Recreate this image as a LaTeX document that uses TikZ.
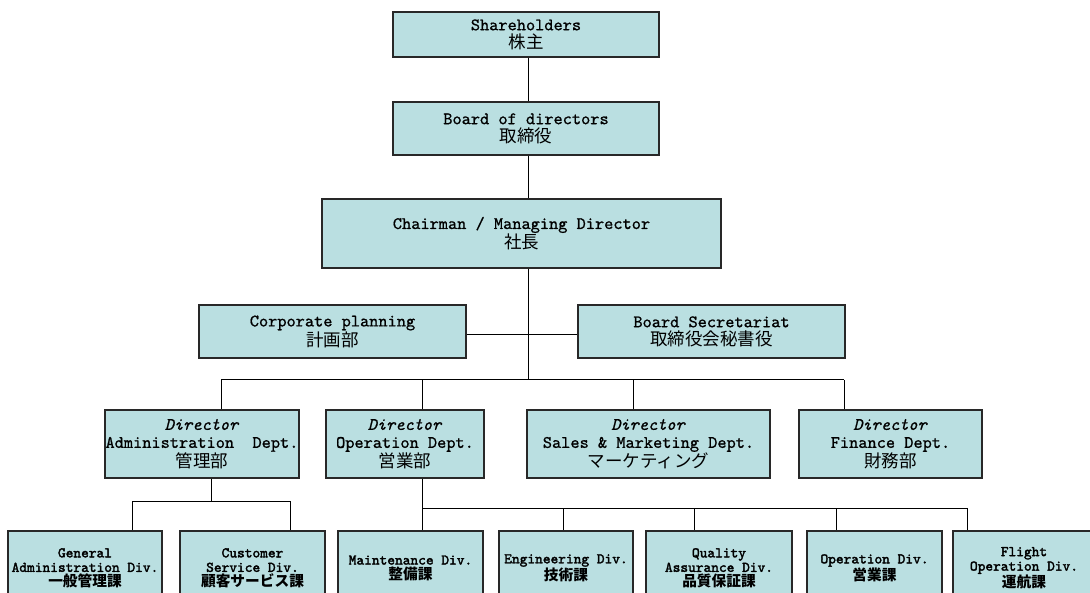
\documentclass[tikz,border=0pt]{standalone}
\usepackage{fontspec}
\newfontfamily\cjk[Scale=1.0]{Noto Sans CJK JP}
\newfontfamily\monotop[FakeBold=0.9, ItalicFont=lmmono10-italic.otf]{lmmono10-regular.otf}
\newfontfamily\monobot[FakeBold=2.2]{lmmono10-regular.otf}
\definecolor{boxc}{RGB}{186,223,225}
\definecolor{linec}{RGB}{40,40,40}
\newcommand{\topfont}{\monotop\fontsize{17.5}{18}\selectfont}
\newcommand{\botfont}{\monobot\fontsize{14.7}{14.5}\selectfont}
\begin{document}
\begin{tikzpicture}[x=1pt,y=-1pt,
  box/.style={draw=linec, fill=boxc, line width=1.1pt, inner sep=0pt, align=center, font=\topfont},
  subbox/.style={box, font=\botfont, minimum height=74pt},
  dirbox/.style={box, minimum height=68pt},
  conn/.style={draw=black, line width=1pt}]
\clip (0,0) rectangle (1090,593);
\fill[white] (0,0) rectangle (1090,593);

% top chain
\node[box, minimum width=266pt, minimum height=45pt] (sh) at (526,34.5) {Shareholders\\{\cjk 株主}};
\node[box, minimum width=266pt, minimum height=53pt] (bd) at (526,128.5) {Board of directors\\{\cjk 取締役}};
\node[box, minimum width=399pt, minimum height=69pt] (ch) at (521.5,233.5) {Chairman / Managing Director\\{\cjk 社長}};

\node[box, minimum width=267pt, minimum height=53pt] (cp) at (332.5,331.5) {Corporate planning\\{\cjk 計画部}};
\node[box, minimum width=267pt, minimum height=53pt] (bs) at (711.5,331.5) {Board Secretariat\\{\cjk 取締役会秘書役}};

% directors
\node[dirbox, minimum width=194pt] (d1) at (202,444) {\textit{Director}\\Administration\ \ Dept.\\{\cjk 管理部}};
\node[dirbox, minimum width=158pt] (d2) at (405,444) {\textit{Director}\\Operation Dept.\\{\cjk 営業部}};
\node[dirbox, minimum width=243pt] (d3) at (648.5,444) {\textit{Director}\\Sales \& Marketing Dept.\\{\cjk マーケティング}};
\node[dirbox, minimum width=183pt] (d4) at (890.5,444) {\textit{Director}\\Finance Dept.\\{\cjk 財務部}};

% divisions
\node[subbox, minimum width=154pt] (b1) at (85,568) {General\\Administration Div.\\{\cjk\bfseries 一般管理課}};
\node[subbox, minimum width=145pt] (b2) at (252.5,568) {Customer\\Service Div.\\{\cjk\bfseries 顧客サービス課}};
\node[subbox, minimum width=145pt] (b3) at (410.5,568) {Maintenance Div.\\{\cjk\bfseries 整備課}};
\node[subbox, minimum width=134pt] (b4) at (566,568) {Engineering Div.\\{\cjk\bfseries 技術課}};
\node[subbox, minimum width=146pt] (b5) at (719,568) {Quality\\Assurance Div.\\{\cjk\bfseries 品質保証課}};
\node[subbox, minimum width=135pt] (b6) at (874.5,568) {Operation Div.\\{\cjk\bfseries 営業課}};
\node[subbox, minimum width=142pt] (b7) at (1024,568) {Flight\\Operation Div.\\{\cjk\bfseries 運航課}};

% connector coordinates
\coordinate (trunk) at (528,380);
\coordinate (side) at (528,335);
\coordinate (k1) at (221,380);
\coordinate (k2) at (422,380);
\coordinate (k3) at (633,380);
\coordinate (k4) at (844,380);
\coordinate (a0) at (211,501);
\coordinate (a1) at (132,501);
\coordinate (a2) at (290,501);
\coordinate (o0) at (422,508);
\coordinate (o3) at (563,508);
\coordinate (o4) at (694,508);
\coordinate (o5) at (836,508);
\coordinate (o6) at (967,508);

% connectors
\draw[conn] (sh.south -| 528,0) -- (bd.north -| 528,0);
\draw[conn] (bd.south -| 528,0) -- (ch.north -| 528,0);
\draw[conn] (ch.south -| trunk) -- (trunk);
\draw[conn] (cp.east |- side) -- (bs.west |- side);
\draw[conn] (k1) -- (k4);
\draw[conn] (k1) -- (k1 |- d1.north);
\draw[conn] (k2) -- (k2 |- d2.north);
\draw[conn] (k3) -- (k3 |- d3.north);
\draw[conn] (k4) -- (k4 |- d4.north);

\draw[conn] (a0 |- d1.south) -- (a0);
\draw[conn] (a1) -- (a2);
\draw[conn] (a1) -- (a1 |- b1.north);
\draw[conn] (a2) -- (a2 |- b2.north);

\draw[conn] (o0 |- d2.south) -- (o0 |- b3.north);
\draw[conn] (o0) -- (o6);
\draw[conn] (o3) -- (o3 |- b4.north);
\draw[conn] (o4) -- (o4 |- b5.north);
\draw[conn] (o5) -- (o5 |- b6.north);
\draw[conn] (o6) -- (o6 |- b7.north);
\end{tikzpicture}
\end{document}
